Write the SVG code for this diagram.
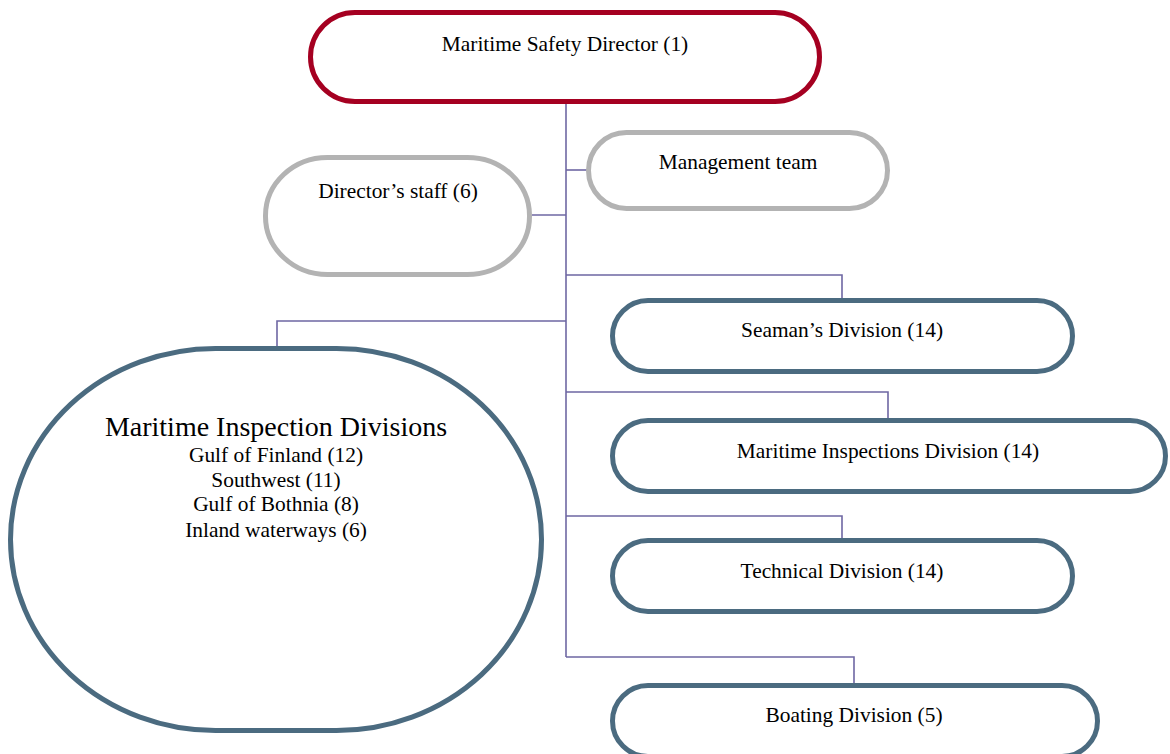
<svg xmlns="http://www.w3.org/2000/svg" width="1170" height="754" viewBox="0 0 1170 754">
<style>
.n{fill:#fff;stroke-width:5}
.red{stroke:#A50021}
.gray{stroke:#B3B3B3}
.blue{stroke:#4B6B80}
.c{fill:none;stroke:#6E67A3;stroke-width:1.6}
text{font-family:"Liberation Serif","Times New Roman",serif;font-size:21.4px;fill:#000;text-anchor:middle}
.big{font-size:28px}
</style>
<rect width="1170" height="754" fill="#fff"/>
<g id="connectors">
<path class="c" d="M566 104 V657"/>
<path class="c" d="M566 170 H588"/>
<path class="c" d="M532 215 H566"/>
<path class="c" d="M566 275 H842 V298"/>
<path class="c" d="M566 321 H277 V348"/>
<path class="c" d="M566 392 H888 V418"/>
<path class="c" d="M566 516 H842 V538"/>
<path class="c" d="M566 657 H854 V683"/>
</g>
<g id="director">
<rect class="n red" x="310.5" y="12.5" width="509" height="89" rx="44.5" ry="44.5"/>
<text x="565" y="51">Maritime Safety Director (1)</text>
</g>
<g id="management">
<rect class="n gray" x="588.5" y="132.5" width="299" height="76" rx="38" ry="38"/>
<text x="738" y="169">Management team</text>
</g>
<g id="staff">
<rect class="n gray" x="265.5" y="157.5" width="264" height="117" rx="62" ry="58"/>
<text x="398" y="198">Director’s staff (6)</text>
</g>
<g id="seaman">
<rect class="n blue" x="612.5" y="300.5" width="460" height="71" rx="35.5" ry="35.5"/>
<text x="842" y="337">Seaman’s Division (14)</text>
</g>
<g id="inspection-divisions">
<rect class="n blue" x="10.5" y="348.5" width="531" height="382" rx="205" ry="191"/>
<text class="big" x="276" y="436">Maritime Inspection Divisions</text>
<text x="276" y="462">Gulf of Finland (12)</text>
<text x="276" y="487">Southwest (11)</text>
<text x="276" y="511">Gulf of Bothnia (8)</text>
<text x="276" y="537">Inland waterways (6)</text>
</g>
<g id="inspections">
<rect class="n blue" x="612.5" y="420.5" width="553" height="71" rx="35.5" ry="35.5"/>
<text x="888" y="458">Maritime Inspections Division (14)</text>
</g>
<g id="technical">
<rect class="n blue" x="612.5" y="540.5" width="460" height="71" rx="35.5" ry="35.5"/>
<text x="842" y="578">Technical Division (14)</text>
</g>
<g id="boating">
<rect class="n blue" x="612.5" y="685.5" width="485" height="71" rx="35.5" ry="35.5"/>
<text x="854" y="722">Boating Division (5)</text>
</g>
</svg>
